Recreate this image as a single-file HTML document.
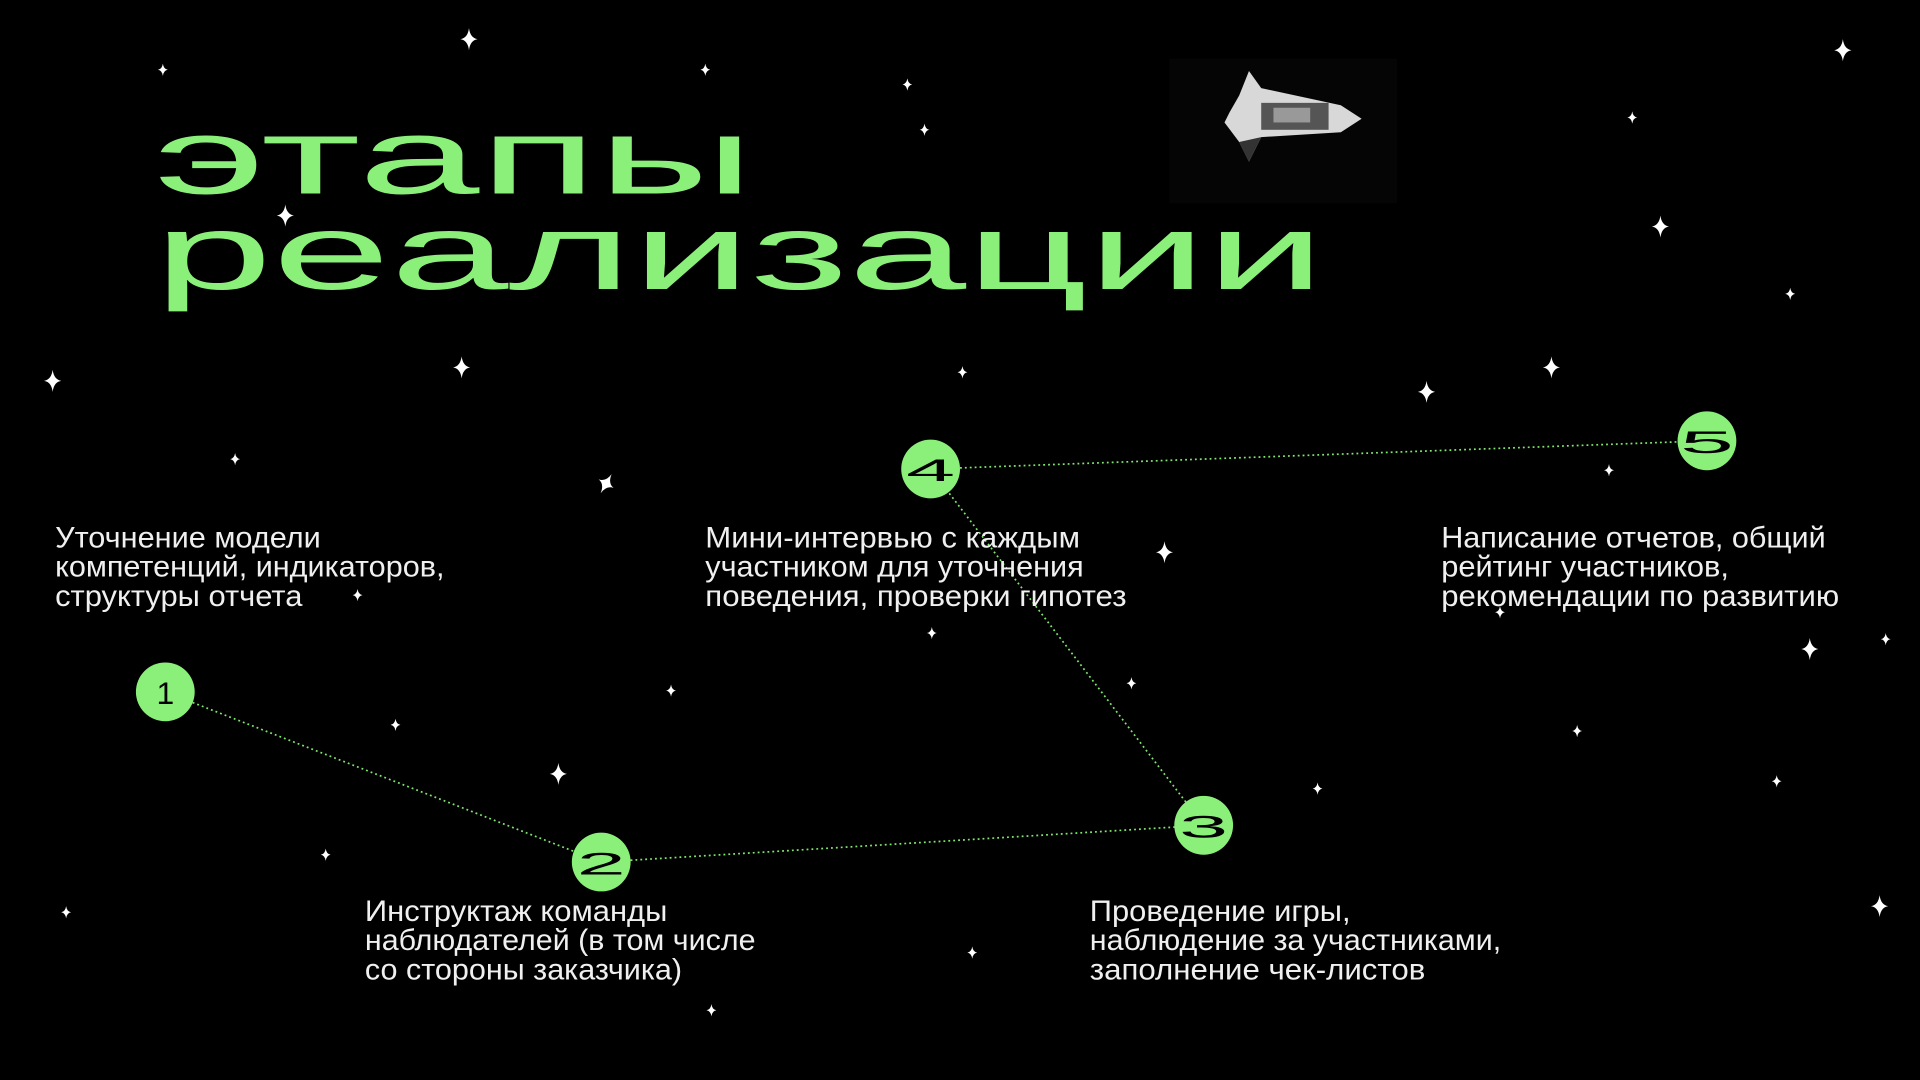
<!DOCTYPE html>
<html><head><meta charset="utf-8"><style>
html,body{margin:0;padding:0;background:#000;}
svg{display:block;}
.t{font-family:"Liberation Sans",sans-serif;fill:#f0f0f0;font-size:24px;}
</style></head><body>
<svg width="1920" height="1080" viewBox="0 0 1568 882" xmlns="http://www.w3.org/2000/svg">
<defs>
<path id="sb" d="M0,-9 Q1,-1 7,0 Q1,1 0,9 Q-1,1 -7,0 Q-1,-1 0,-9Z" fill="#fff"/>
<path id="ss" d="M0,-5 Q0.6,-0.6 4,0 Q0.6,0.6 0,5 Q-0.6,0.6 -4,0 Q-0.6,-0.6 0,-5Z" fill="#fff"/>
</defs>
<rect width="1568" height="882" fill="#000"/>
<g>
<use href="#sb" x="383" y="32"/><use href="#ss" x="133" y="57"/><use href="#ss" x="576" y="57"/>
<use href="#ss" x="741" y="69"/><use href="#ss" x="755" y="106"/><use href="#sb" x="1505" y="41"/>
<use href="#ss" x="1333" y="96"/><use href="#sb" x="1356" y="185"/><use href="#ss" x="1462" y="240"/>
<use href="#sb" x="233" y="176"/><use href="#sb" x="43" y="311"/><use href="#sb" x="377" y="300"/>
<use href="#ss" x="192" y="375"/><use href="#sb" x="495" y="395" transform="rotate(30 495 395)"/>
<use href="#ss" x="786" y="304"/><use href="#sb" x="1267" y="300"/><use href="#sb" x="1165" y="320"/>
<use href="#ss" x="1314" y="384"/><use href="#sb" x="951" y="451"/><use href="#ss" x="292" y="486"/>
<use href="#ss" x="1225" y="500"/><use href="#ss" x="761" y="517"/><use href="#sb" x="1478" y="530"/>
<use href="#ss" x="1540" y="522"/><use href="#ss" x="548" y="564"/><use href="#ss" x="924" y="558"/>
<use href="#ss" x="323" y="592"/><use href="#sb" x="456" y="632"/><use href="#ss" x="1288" y="597"/>
<use href="#ss" x="1451" y="638"/><use href="#ss" x="1076" y="644"/><use href="#ss" x="266" y="698"/>
<use href="#ss" x="54" y="745"/><use href="#sb" x="1535" y="740"/><use href="#ss" x="794" y="778"/>
<use href="#ss" x="581" y="825"/>
</g>
<rect x="955" y="48" width="186" height="118" fill="#050505"/>
<g>
<polygon points="1012,78 1020,58 1030,72 1095,86 1112,97 1095,108 1030,112 1020,132 1012,116 1000,100 1004,92" fill="#d8d8d8"/>
<rect x="1030" y="84" width="55" height="22" fill="#555"/>
<rect x="1040" y="88" width="30" height="12" fill="#999"/>
<polygon points="1012,116 1020,132 1030,112" fill="#333"/>
</g>
<text x="126" y="158" font-family="Liberation Sans,sans-serif" font-size="88" fill="#8bf07a" textLength="490" lengthAdjust="spacingAndGlyphs">этапы</text>
<text x="126" y="236" font-family="Liberation Sans,sans-serif" font-size="88" fill="#8bf07a" textLength="956" lengthAdjust="spacingAndGlyphs">реализации</text>
<g stroke="#7ee86c" stroke-width="1.4" stroke-dasharray="1.5 2.5" fill="none">
<line x1="135" y1="565" x2="491" y2="704"/>
<line x1="491" y1="704" x2="983" y2="674"/>
<line x1="983" y1="674" x2="760" y2="383"/>
<line x1="760" y1="383" x2="1394" y2="360"/>
</g>
<g fill="#8bf07a">
<circle cx="135" cy="565" r="24"/><circle cx="491" cy="704" r="24"/>
<circle cx="983" cy="674" r="24"/><circle cx="760" cy="383" r="24"/>
<circle cx="1394" cy="360" r="24"/>
</g>
<g font-family="Liberation Sans,sans-serif" font-size="26" fill="#000" text-anchor="middle">
<text x="135" y="575">1</text>
<text x="491" y="714" textLength="40" lengthAdjust="spacingAndGlyphs">2</text>
<text x="983" y="684" textLength="40" lengthAdjust="spacingAndGlyphs">3</text>
<text x="760" y="393" textLength="40" lengthAdjust="spacingAndGlyphs">4</text>
<text x="1394" y="370" textLength="44" lengthAdjust="spacingAndGlyphs">5</text>
</g>
<g class="t">
<text x="45" y="447" textLength="217" lengthAdjust="spacingAndGlyphs">Уточнение модели</text>
<text x="45" y="471" textLength="318" lengthAdjust="spacingAndGlyphs">компетенций, индикаторов,</text>
<text x="45" y="495" textLength="202" lengthAdjust="spacingAndGlyphs">структуры отчета</text>
<text x="576" y="447" textLength="306" lengthAdjust="spacingAndGlyphs">Мини-интервью с каждым</text>
<text x="576" y="471" textLength="309" lengthAdjust="spacingAndGlyphs">участником для уточнения</text>
<text x="576" y="495" textLength="344" lengthAdjust="spacingAndGlyphs">поведения, проверки гипотез</text>
<text x="1177" y="447" textLength="314" lengthAdjust="spacingAndGlyphs">Написание отчетов, общий</text>
<text x="1177" y="471" textLength="235" lengthAdjust="spacingAndGlyphs">рейтинг участников,</text>
<text x="1177" y="495" textLength="325" lengthAdjust="spacingAndGlyphs">рекомендации по развитию</text>
<text x="298" y="752" textLength="247" lengthAdjust="spacingAndGlyphs">Инструктаж команды</text>
<text x="298" y="776" textLength="319" lengthAdjust="spacingAndGlyphs">наблюдателей (в том числе</text>
<text x="298" y="800" textLength="259" lengthAdjust="spacingAndGlyphs">со стороны заказчика)</text>
<text x="890" y="752" textLength="213" lengthAdjust="spacingAndGlyphs">Проведение игры,</text>
<text x="890" y="776" textLength="336" lengthAdjust="spacingAndGlyphs">наблюдение за участниками,</text>
<text x="890" y="800" textLength="274" lengthAdjust="spacingAndGlyphs">заполнение чек-листов</text>
</g>
</svg>
</body></html>
